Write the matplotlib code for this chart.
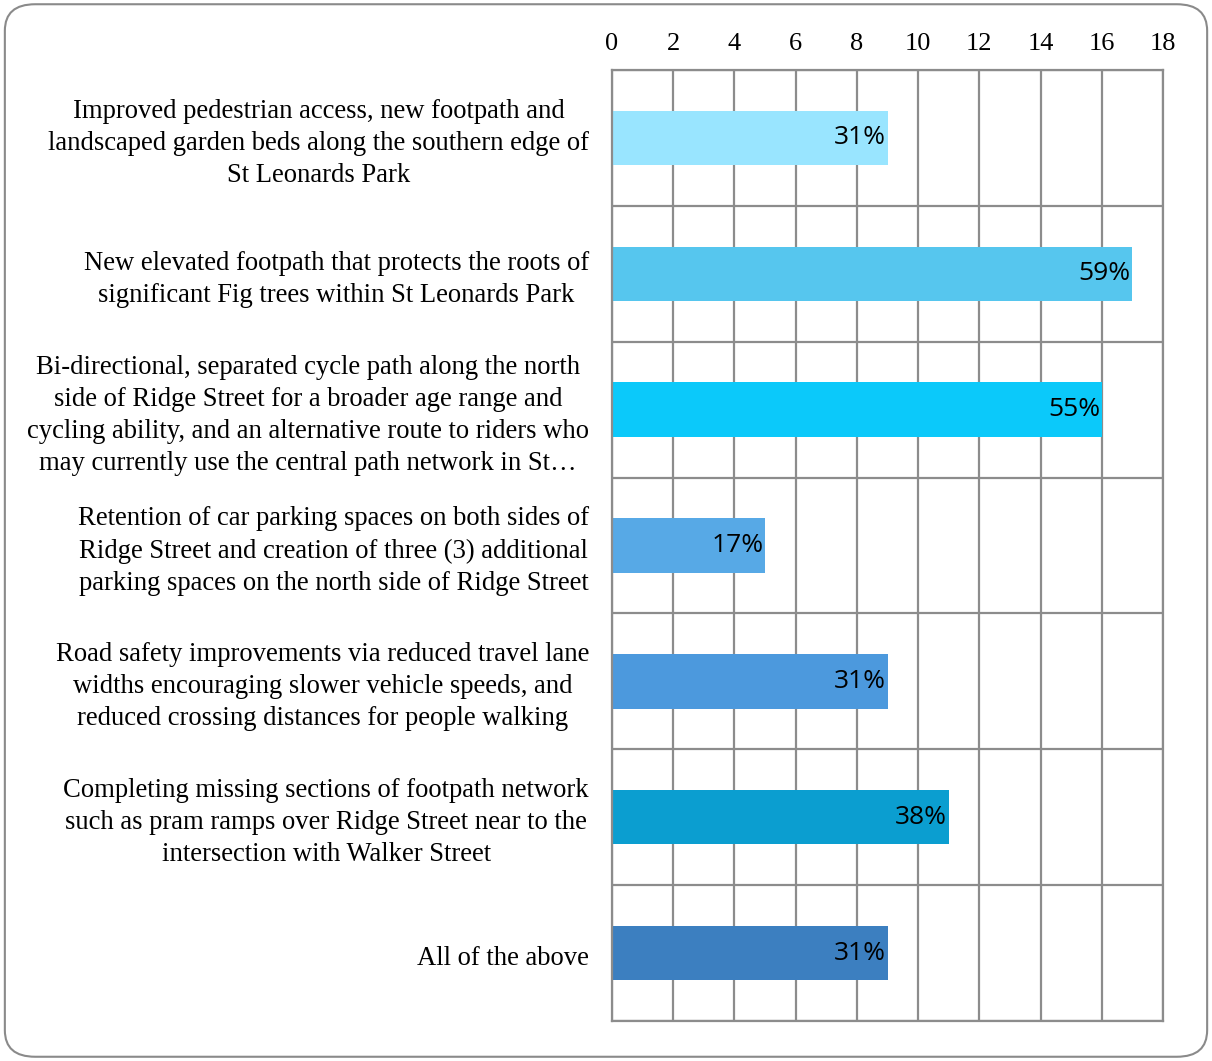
import matplotlib
matplotlib.use("Agg")
import matplotlib.pyplot as plt
from matplotlib.patches import FancyBboxPatch
import numpy as np

categories = [
    "Improved pedestrian access, new footpath and\nlandscaped garden beds along the southern edge of\nSt Leonards Park",
    "New elevated footpath that protects the roots of\nsignificant Fig trees within St Leonards Park",
    "Bi-directional, separated cycle path along the north\nside of Ridge Street for a broader age range and\ncycling ability, and an alternative route to riders who\nmay currently use the central path network in St\u2026",
    "Retention of car parking spaces on both sides of\nRidge Street and creation of three (3) additional\nparking spaces on the north side of Ridge Street",
    "Road safety improvements via reduced travel lane\nwidths encouraging slower vehicle speeds, and\nreduced crossing distances for people walking",
    "Completing missing sections of footpath network\nsuch as pram ramps over Ridge Street near to the\nintersection with Walker Street",
    "All of the above",
]
counts = [9, 17, 16, 5, 9, 11, 9]
pct_labels = ["31%", "59%", "55%", "17%", "31%", "38%", "31%"]
colors = ["#99E5FF", "#56C6EE", "#0BC9FA", "#57A9E6", "#4C99DD", "#0B9ED0", "#3C7FC0"]
xticks = list(range(0, 19, 2))

fig = plt.figure(figsize=(12.12, 10.61), dpi=100)
fig.patches.append(FancyBboxPatch((0.004, 0.004), 0.992, 0.992,
                                  boxstyle="round,pad=0,rounding_size=0.025",
                                  transform=fig.transFigure, facecolor="white",
                                  edgecolor="#8a8a8a", linewidth=1.5, zorder=-1))

ax = fig.add_axes([612/1212, 40/1061, 551/1212, 951/1061])
n = len(categories)
y = np.arange(n)
ax.barh(y, counts, height=0.4, color=colors, zorder=2)
ax.set_ylim(n - 0.5, -0.5)
ax.set_xlim(0, 18)
ax.set_xticks(xticks)
ax.xaxis.tick_top()
ax.tick_params(axis="x", length=0, pad=11, labelsize=19)
for lab in ax.get_xticklabels():
    lab.set_fontfamily("Liberation Serif")
ax.set_yticks([])
for xv in xticks:
    ax.axvline(xv, color="#8c8c8c", lw=1.6, zorder=1)
for b in np.arange(-0.5, n, 1):
    ax.axhline(b, color="#8c8c8c", lw=1.6, zorder=1)
for s in ax.spines.values():
    s.set_color("#8c8c8c")
    s.set_linewidth(1.6)

for i, (c, p) in enumerate(zip(counts, pct_labels)):
    ax.text(c - 0.05, i, p, ha="right", va="center", fontsize=19,
            family="Open Sans", color="black", zorder=3)
    ax.text(-0.75, i + 0.04, categories[i], ha="right", va="center", multialignment="center",
            fontsize=19.2, family="Liberation Serif", color="black", linespacing=1.37)

fig.savefig("out.png", dpi=100)
